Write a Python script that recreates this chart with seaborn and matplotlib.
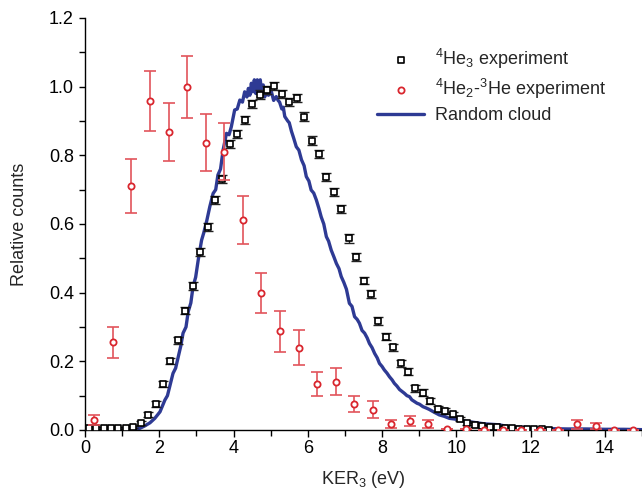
import matplotlib
matplotlib.use("Agg")
import matplotlib.pyplot as plt
import seaborn as sns
import pandas as pd
from matplotlib.ticker import MultipleLocator

# 4He3 experiment (black squares)
he3_ker = [0.1, 0.3, 0.5, 0.7, 0.9, 1.1, 1.3, 1.5, 1.7, 1.9,
           2.1, 2.3, 2.5, 2.7, 2.9, 3.1, 3.3, 3.5, 3.7, 3.9,
           4.1, 4.3, 4.5, 4.7, 4.9, 5.1, 5.3, 5.5, 5.7, 5.9,
           6.1, 6.3, 6.5, 6.7, 6.9, 7.1, 7.3, 7.5, 7.7, 7.9,
           8.1, 8.3, 8.5, 8.7, 8.9, 9.1, 9.3, 9.5, 9.7, 9.9,
           10.1, 10.3, 10.5, 10.7, 10.9, 11.1, 11.3, 11.5, 11.7, 11.9,
           12.1, 12.3, 12.5]
he3_counts = [0.005, 0.005, 0.005, 0.005, 0.005, 0.006, 0.009, 0.020, 0.045, 0.076,
              0.134, 0.201, 0.261, 0.348, 0.419, 0.519, 0.592, 0.670, 0.730, 0.833,
              0.862, 0.903, 0.950, 0.977, 0.990, 1.003, 0.978, 0.955, 0.966, 0.913,
              0.843, 0.803, 0.736, 0.693, 0.643, 0.558, 0.503, 0.435, 0.396, 0.317,
              0.272, 0.241, 0.194, 0.170, 0.121, 0.109, 0.084, 0.061, 0.055, 0.046,
              0.032, 0.020, 0.015, 0.012, 0.010, 0.008, 0.006, 0.005, 0.004, 0.003,
              0.002, 0.002, 0.001]
he3_err = [0.003, 0.003, 0.003, 0.003, 0.003, 0.003, 0.004, 0.006, 0.008, 0.009,
           0.010, 0.010, 0.011, 0.011, 0.012, 0.012, 0.012, 0.012, 0.012, 0.012,
           0.012, 0.012, 0.012, 0.012, 0.012, 0.012, 0.012, 0.012, 0.012, 0.012,
           0.012, 0.012, 0.012, 0.012, 0.012, 0.012, 0.012, 0.011, 0.011, 0.011,
           0.011, 0.010, 0.010, 0.010, 0.009, 0.009, 0.008, 0.008, 0.008, 0.007,
           0.006, 0.005, 0.005, 0.004, 0.004, 0.004, 0.003, 0.003, 0.003, 0.003,
           0.002, 0.002, 0.002]

# 4He2-3He experiment (red circles)
mix_ker = [0.25, 0.75, 1.25, 1.75, 2.25, 2.75, 3.25, 3.75, 4.25, 4.75,
           5.25, 5.75, 6.25, 6.75, 7.25, 7.75, 8.25, 8.75, 9.25, 9.75,
           10.25, 10.75, 11.25, 11.75, 12.25, 12.75, 13.25, 13.75, 14.25, 14.75]
mix_counts = [0.030, 0.256, 0.711, 0.958, 0.868, 0.999, 0.836, 0.810, 0.612, 0.398,
              0.288, 0.239, 0.134, 0.141, 0.076, 0.059, 0.018, 0.027, 0.017, 0.002,
              0.002, 0.001, 0.0, 0.0, 0.0, 0.0, 0.017, 0.012, 0.0, 0.0]
mix_err = [0.015, 0.045, 0.078, 0.088, 0.085, 0.089, 0.083, 0.083, 0.070, 0.058,
           0.060, 0.051, 0.036, 0.040, 0.024, 0.024, 0.011, 0.014, 0.011, 0.0,
           0.0, 0.0, 0.0, 0.0, 0.0, 0.0, 0.013, 0.008, 0.0, 0.0]

# Random cloud simulation (blue line)
cloud_ker = [1.0, 1.3, 1.48, 1.61, 1.75, 1.88, 2.02, 2.15, 2.22, 2.28,
             2.37, 2.44, 2.51, 2.58, 2.64, 2.72, 2.78, 2.85, 2.91, 2.98,
             3.05, 3.14, 3.20, 3.28, 3.36, 3.45, 3.52, 3.58, 3.65, 3.72,
             3.81, 3.88, 3.94, 4.03, 4.10, 4.17, 4.24, 4.30, 4.36, 4.40,
             4.44, 4.48, 4.52, 4.56, 4.60, 4.64, 4.68, 4.72, 4.76, 4.80,
             4.84, 4.88, 4.94, 5.02, 5.08, 5.15, 5.20, 5.24, 5.30, 5.34,
             5.38, 5.46, 5.50, 5.56, 5.62, 5.69, 5.76, 5.83, 5.90, 5.96,
             6.03, 6.09, 6.16, 6.23, 6.30, 6.36, 6.43, 6.50, 6.56, 6.63,
             6.70, 6.77, 6.84, 6.90, 6.97, 7.04, 7.12, 7.19, 7.26, 7.33,
             7.39, 7.46, 7.53, 7.60, 7.66, 7.73, 7.80, 7.87, 7.93, 8.00,
             8.06, 8.13, 8.20, 8.27, 8.33, 8.40, 8.47, 8.54, 8.60, 8.67,
             8.74, 8.80, 8.87, 8.94, 9.01, 9.10, 9.19, 9.27, 9.40, 9.54,
             9.67, 9.81, 9.95, 10.08, 10.22, 10.35, 10.50, 10.62, 10.75, 10.89,
             11.02, 11.16, 11.30, 11.42, 11.55, 11.69, 11.82, 11.96, 12.23, 12.5,
             13.0, 13.5, 14.0, 14.5, 15.0]
cloud_counts = [0.0, 0.002, 0.005, 0.012, 0.021, 0.034, 0.053, 0.087, 0.100, 0.126,
                0.165, 0.180, 0.213, 0.245, 0.282, 0.300, 0.345, 0.370, 0.418, 0.445,
                0.496, 0.553, 0.575, 0.610, 0.650, 0.689, 0.700, 0.743, 0.760, 0.816,
                0.864, 0.860, 0.883, 0.932, 0.935, 0.961, 0.955, 0.985, 0.970, 0.995,
                0.975, 1.010, 0.985, 1.020, 0.980, 1.020, 0.990, 1.020, 0.980, 1.005,
                0.970, 0.990, 0.975, 0.985, 0.960, 0.971, 0.960, 0.955, 0.935, 0.940,
                0.913, 0.900, 0.895, 0.870, 0.850, 0.825, 0.815, 0.787, 0.770, 0.738,
                0.725, 0.699, 0.690, 0.670, 0.645, 0.621, 0.600, 0.563, 0.550, 0.524,
                0.505, 0.485, 0.470, 0.447, 0.430, 0.410, 0.369, 0.360, 0.330, 0.322,
                0.311, 0.290, 0.282, 0.268, 0.252, 0.240, 0.223, 0.210, 0.194, 0.185,
                0.175, 0.166, 0.155, 0.146, 0.136, 0.128, 0.118, 0.112, 0.107, 0.100,
                0.097, 0.088, 0.083, 0.078, 0.075, 0.068, 0.064, 0.060, 0.052, 0.044,
                0.040, 0.034, 0.032, 0.029, 0.026, 0.024, 0.022, 0.020, 0.018, 0.017,
                0.016, 0.015, 0.012, 0.010, 0.009, 0.008, 0.008, 0.007, 0.005, 0.004,
                0.003, 0.003, 0.002, 0.002, 0.001]

cloud = pd.DataFrame({"KER": cloud_ker, "counts": cloud_counts})
he3 = pd.DataFrame({"KER": he3_ker, "counts": he3_counts})
mix = pd.DataFrame({"KER": mix_ker, "counts": mix_counts})

sns.set_style("ticks")
plt.rcParams["font.family"] = ["Liberation Sans", "DejaVu Sans"]
plt.rcParams["mathtext.fontset"] = "custom"
plt.rcParams["mathtext.rm"] = "Liberation Sans"
plt.rcParams["mathtext.it"] = "Liberation Sans:italic"
plt.rcParams["font.size"] = 13

blue = "#2E3A94"
red = "#D9262E"
red_bar = "#E2545B"

fig = plt.figure(figsize=(6.42, 4.93), dpi=100)
ax = fig.add_axes([0.1324, 0.1278, 0.8676, 0.8357])

sns.lineplot(data=cloud, x="KER", y="counts", color=blue, linewidth=2.4,
             sort=False, ax=ax, zorder=2, label="Random cloud")

ax.errorbar(he3_ker, he3_counts, yerr=he3_err, fmt="none", ecolor="#222222",
            elinewidth=1.0, capsize=3.5, capthick=1.0, zorder=3)
sns.scatterplot(data=he3, x="KER", y="counts", marker="s", s=18,
                facecolor="white", edgecolor="black", linewidth=1.2,
                ax=ax, zorder=4, label=r"$^4$He$_3$ experiment")

ax.errorbar(mix_ker, mix_counts, yerr=mix_err, fmt="none", ecolor=red_bar,
            elinewidth=1.2, capsize=4.5, capthick=1.2, zorder=5)
sns.scatterplot(data=mix, x="KER", y="counts", marker="o", s=20,
                facecolor="white", edgecolor=red, linewidth=1.3,
                ax=ax, zorder=6, label=r"$^4$He$_2$-$^3$He experiment")

ax.set_xlim(0, 15)
ax.set_ylim(0, 1.2)
ax.xaxis.set_major_locator(MultipleLocator(2))
ax.xaxis.set_minor_locator(MultipleLocator(1))
ax.yaxis.set_major_locator(MultipleLocator(0.2))
ax.yaxis.set_minor_locator(MultipleLocator(0.1))
ax.yaxis.set_major_formatter(matplotlib.ticker.FormatStrFormatter("%.1f"))
ax.tick_params(axis="both", which="both", direction="out", length=4,
               width=1.0, labelsize=13, colors="black")
ax.tick_params(axis="x", which="major", length=5, pad=2)
ax.tick_params(axis="y", which="major", pad=4)

for side in ["top", "right"]:
    ax.spines[side].set_visible(False)
for side in ["left", "bottom"]:
    ax.spines[side].set_color("black")
    ax.spines[side].set_linewidth(1.0)

ax.set_xlabel(r"KER$_3$ (eV)", fontsize=13, labelpad=9)
ax.set_ylabel("Relative counts", fontsize=13, labelpad=15)

handles, labels = ax.get_legend_handles_labels()
order = [1, 2, 0]
ax.legend([handles[i] for i in order], [labels[i] for i in order],
          loc="upper right", bbox_to_anchor=(0.955, 0.957), frameon=False,
          fontsize=13, handlelength=2.6, handletextpad=0.6,
          labelspacing=0.35, borderaxespad=0.2)

plt.savefig("out.png", dpi=100)
